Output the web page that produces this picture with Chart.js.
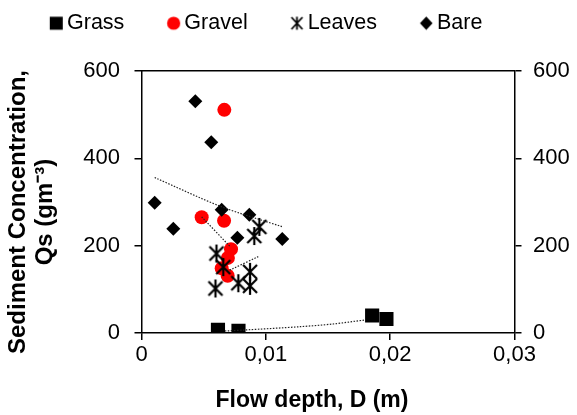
<!DOCTYPE html>
<html>
<head>
<meta charset="utf-8">
<script src="https://cdn.jsdelivr.net/npm/chart.js@4.4.1/dist/chart.umd.min.js"></script>
<style>
  html, body { margin: 0; padding: 0; background: #fff; }
</style>
</head>
<body>
<canvas id="chart" width="577" height="415"></canvas>
<script>
// values
const seriesNames = ['Grass', 'Gravel', 'Leaves', 'Bare'];

const grassX = [0.00615, 0.0078, 0.01855, 0.0197];
const grassY = [7, 5, 40, 32];

const gravelX = [0.00666, 0.00484, 0.00664, 0.0072, 0.00695, 0.00645, 0.00693];
const gravelY = [511, 265, 257, 192, 172, 148, 131];

const leavesX = [0.00948, 0.00907, 0.00603, 0.00658, 0.00873, 0.00779, 0.00873, 0.00595];
const leavesY = [243, 222, 182, 151, 140, 114, 108, 102];

const bareX = [0.00433, 0.00561, 0.00106, 0.00256, 0.00645, 0.00867, 0.00771, 0.01132];
const bareY = [531, 437, 298, 239, 282, 271, 218, 215];

// dotted trend lines, also
const grassTrendX = [0.00671, 0.00832, 0.01274, 0.0154, 0.01797];
const grassTrendY = [4.6, 6.9, 14.4, 20.6, 29.8];
const gravelTrendX = [0.00484, 0.00712];
const gravelTrendY = [266, 198];
const leavesTrendX = [0.0071, 0.0094];
const leavesTrendY = [144, 175];
const bareTrendX = [0.00106, 0.00645, 0.01136];
const bareTrendY = [356, 289, 243];

const xTickLabels = ['0', '0,01', '0,02', '0,03'];
const yTickLabels = ['0', '200', '400', '600'];

const FONT = "'Liberation Sans', Arial, sans-serif";
Chart.defaults.font.family = FONT;
Chart.defaults.color = '#000';

const pts = (xs, ys) => xs.map((x, i) => ({ x: x, y: ys[i] }));

function makeIcon(w, h, draw) {
  const c = document.createElement('canvas');
  c.width = w; c.height = h;
  draw(c.getContext('2d'));
  return c;
}

function star(ctx, cx, cy, dx, dy, v, lw) {
  ctx.strokeStyle = '#000';
  ctx.lineWidth = lw;
  ctx.beginPath();
  ctx.moveTo(cx, cy - v); ctx.lineTo(cx, cy + v);
  ctx.moveTo(cx - dx, cy - dy); ctx.lineTo(cx + dx, cy + dy);
  ctx.moveTo(cx + dx, cy - dy); ctx.lineTo(cx - dx, cy + dy);
  ctx.stroke();
}

const starMarker = makeIcon(20, 22, c => star(c, 10, 11, 7, 7, 9, 2.2));

// legend icons: marker sits at the right end of a wide box
const LW = 54, LH = 20, LCX = 45.4, LCY = 10;
const legendIcons = [
  makeIcon(LW, LH, c => { c.fillStyle = '#000'; c.fillRect(LCX - 6.5, LCY - 6.5, 13, 13); }),
  makeIcon(LW, LH, c => { c.fillStyle = '#ff0000'; c.beginPath(); c.arc(LCX, LCY, 6.6, 0, Math.PI * 2); c.fill(); }),
  makeIcon(LW, LH, c => star(c, LCX, LCY, 5.5, 6, 6.5, 1.8)),
  makeIcon(LW, LH, c => {
    c.fillStyle = '#000'; c.beginPath();
    c.moveTo(LCX, LCY - 6.8); c.lineTo(LCX + 6.3, LCY); c.lineTo(LCX, LCY + 6.8); c.lineTo(LCX - 6.3, LCY);
    c.closePath(); c.fill();
  })
];

function trend(xs, ys) {
  return {
    data: pts(xs, ys),
    showLine: true,
    pointRadius: 0,
    borderColor: '#222',
    borderWidth: 1.2,
    borderDash: [1.5, 1.5],
    tension: 0.3,
    order: 0
  };
}

const datasets = [
  { label: 'Grass', data: pts(grassX, grassY), pointStyle: 'rect', pointRadius: 10,
    backgroundColor: '#000', borderColor: '#000', borderWidth: 0, order: 4 },
  { label: 'Gravel', data: pts(gravelX, gravelY), pointStyle: 'circle', pointRadius: 7,
    backgroundColor: '#ff0000', borderColor: '#ff0000', borderWidth: 0, order: 3 },
  { label: 'Leaves', data: pts(leavesX, leavesY), pointStyle: starMarker, pointRadius: 8,
    backgroundColor: '#000', borderColor: '#000', order: 2 },
  { label: 'Bare', data: pts(bareX, bareY), pointStyle: 'rectRot', pointRadius: 7,
    backgroundColor: '#000', borderColor: '#000', borderWidth: 0, order: 1 },
  trend(grassTrendX, grassTrendY),
  trend(gravelTrendX, gravelTrendY),
  trend(leavesTrendX, leavesTrendY),
  trend(bareTrendX, bareTrendY)
];

const axisGrid = { drawOnChartArea: false, drawTicks: true, tickLength: 7, color: '#000', lineWidth: 1.5 };
const axisBorder = { display: true, color: '#000', width: 1.5 };
const tickFont = { size: 22 };

new Chart(document.getElementById('chart'), {
  type: 'scatter',
  data: { datasets },
  options: {
    responsive: false,
    animation: false,
    devicePixelRatio: 1,
    layout: { padding: { left: 7, top: 0, right: 0, bottom: 0 } },
    plugins: {
      tooltip: { enabled: false },
      legend: {
        position: 'top',
        align: 'start',
        labels: {
          usePointStyle: true,
          pointStyleWidth: 36.75,
          padding: 12.5,
          font: { size: 21.5 },
          color: '#000',
          generateLabels: () => seriesNames.map((name, i) => ({
            text: name,
            pointStyle: legendIcons[i],
            fillStyle: '#000',
            strokeStyle: 'transparent',
            lineWidth: 0,
            hidden: false,
            datasetIndex: i,
            fontColor: '#000'
          }))
        }
      }
    },
    scales: {
      x: {
        type: 'linear', position: 'bottom', min: 0, max: 0.03,
        afterFit: s => { s.height = 82; },
        grid: axisGrid, border: axisBorder,
        ticks: { stepSize: 0.01, font: tickFont, padding: 2, maxRotation: 0,
          callback: (v, i) => xTickLabels[i] },
        title: { display: true, text: 'Flow depth, D (m)     ',
          font: { size: 23, weight: 'bold' }, padding: { top: 0, bottom: 1 } }
      },
      x2: {
        type: 'linear', position: 'top', min: 0, max: 0.03,
        afterFit: s => { s.height = 71 - (s.chart.legend ? s.chart.legend.height : 44); },
        grid: { display: false }, border: axisBorder,
        ticks: { display: false }
      },
      y: {
        type: 'linear', position: 'left', min: 0, max: 600,
        afterFit: s => { s.width = 134.5; },
        grid: axisGrid, border: axisBorder,
        ticks: { stepSize: 200, font: tickFont, padding: 14.5,
          callback: (v, i) => yTickLabels[i] },
        title: { display: true, text: ['Sediment Concentration,   ', 'Qs (gm\u207B\u00B3)   '],
          font: { size: 24, weight: 'bold', lineHeight: 1.1 }, padding: { top: -1.7, bottom: 0 } }
      },
      y2: {
        type: 'linear', position: 'right', min: 0, max: 600,
        afterFit: s => { s.width = 62.5; },
        grid: axisGrid, border: axisBorder,
        ticks: { stepSize: 200, font: tickFont, padding: 11.5,
          callback: (v, i) => yTickLabels[i] }
      }
    }
  }
});
</script>
</body>
</html>
